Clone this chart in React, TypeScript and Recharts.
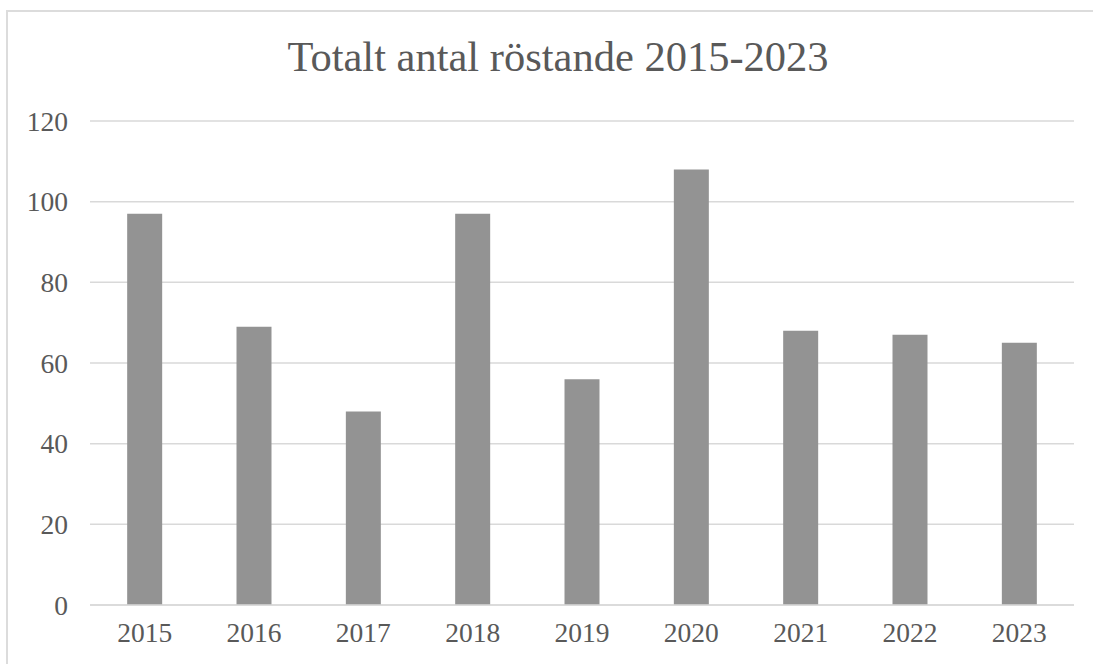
import { BarChart, Bar, XAxis, YAxis, CartesianGrid } from 'recharts';

const years = ['2015', '2016', '2017', '2018', '2019', '2020', '2021', '2022', '2023'];
const voters = [97, 69, 48, 97, 56, 108, 68, 67, 65];
const yTicks = [0, 20, 40, 60, 80, 100, 120];

const data = years.map((year, i) => ({ year, voters: voters[i] }));

const font = '"Liberation Serif", "Times New Roman", serif';
const textColor = '#595959';

export default function App() {
  return (
    <div style={{ position: 'fixed', left: 0, top: 0, width: 1093, height: 664, background: '#fff', overflow: 'hidden' }}>
      {/* outer chart frame, only left and top edges are visible */}
      <div
        style={{
          position: 'absolute',
          left: 6,
          top: 10,
          right: 0,
          bottom: 0,
          borderTop: '2px solid #dcdcdc',
          borderLeft: '2px solid #dcdcdc',
        }}
      />
      <div
        style={{
          position: 'absolute',
          left: 0,
          top: 32,
          width: 1116,
          textAlign: 'center',
          fontFamily: font,
          fontSize: 42.5,
          color: textColor,
        }}
      >
        Totalt antal röstande 2015-2023
      </div>
      <div style={{ position: 'absolute', left: 0, top: 0 }}>
        <BarChart
          width={1093}
          height={664}
          data={data}
          margin={{ top: 121, right: 19, bottom: 29, left: 0 }}
          barCategoryGap="34%"
        >
          <CartesianGrid vertical={false} stroke="#d9d9d9" strokeWidth={1.5} />
          <XAxis
            dataKey="year"
            height={30}
            axisLine={{ stroke: '#d9d9d9', strokeWidth: 1.5 }}
            tickLine={false}
            tickSize={0}
            tickMargin={17}
            tick={{ fill: textColor, fontSize: 27.5, fontFamily: font }}
          />
          <YAxis
            width={90}
            domain={[0, 120]}
            ticks={yTicks}
            axisLine={false}
            tickLine={false}
            tickSize={0}
            tickMargin={22}
            tick={{ fill: textColor, fontSize: 27.5, fontFamily: font }}
          />
          <Bar dataKey="voters" fill="#939393" isAnimationActive={false} />
        </BarChart>
      </div>
    </div>
  );
}
